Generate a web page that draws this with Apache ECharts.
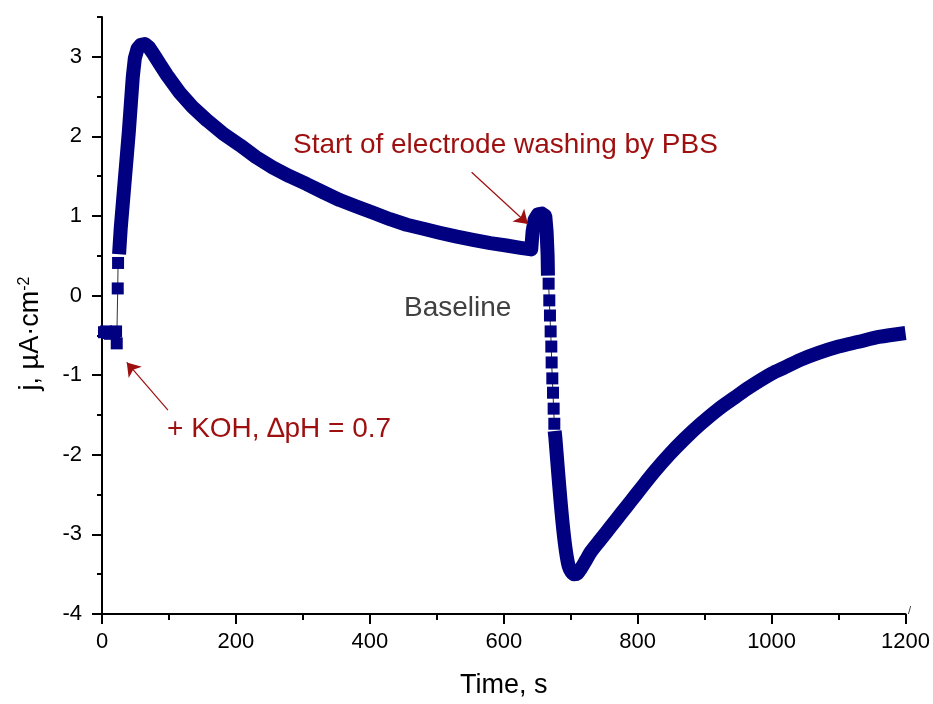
<!DOCTYPE html>
<html>
<head>
<meta charset="utf-8">
<title>j vs time</title>
<script src="https://cdn.jsdelivr.net/npm/echarts@6/dist/echarts.min.js"></script>
<style>
  html, body { margin: 0; padding: 0; background: #fff; }
  #chart { width: 933px; height: 704px; }
</style>
</head>
<body>
<div id="chart"></div>
<script>
// current density j (uA/cm2) against time (s)

// continuous part: KOH step response, decay, washing spike
var riseT = [25.5, 28, 31, 34, 37, 40, 43, 46, 49, 53, 58, 64, 70, 78, 87, 97, 116, 135, 157, 180, 206, 230, 255, 280, 306, 330, 355, 380, 405, 430, 455, 480, 504, 530, 554, 580, 604, 625, 641, 643, 646, 651, 657, 662, 664, 665.5, 666];
var riseJ = [0.52, 0.85, 1.15, 1.45, 1.75, 2.05, 2.4, 2.75, 2.98, 3.1, 3.15, 3.16, 3.12, 3.02, 2.9, 2.77, 2.55, 2.37, 2.2, 2.04, 1.89, 1.74, 1.61, 1.5, 1.4, 1.3, 1.2, 1.12, 1.04, 0.96, 0.89, 0.84, 0.79, 0.74, 0.7, 0.66, 0.63, 0.6, 0.58, 0.8, 0.95, 1.02, 1.03, 1.0, 0.8, 0.5, 0.25];

// continuous part after the drop: minimum and slow recovery
var recT = [676, 677, 681, 685, 689, 693, 697, 701, 705, 710, 716, 723, 730, 745, 760, 775, 790, 805, 825, 848, 870, 893, 920, 945, 967, 1000, 1020, 1042, 1070, 1100, 1130, 1160, 1200];
var recJ = [-1.7, -1.78, -2.2, -2.6, -2.95, -3.22, -3.4, -3.47, -3.5, -3.49, -3.42, -3.32, -3.22, -3.06, -2.9, -2.74, -2.58, -2.42, -2.21, -1.99, -1.8, -1.62, -1.43, -1.28, -1.15, -0.98, -0.9, -0.81, -0.72, -0.64, -0.58, -0.52, -0.47];

// sparse points (single squares): baseline + KOH step
var baseT = [3, 6, 9, 12, 15, 18, 21, 22, 23.5, 24];
var baseJ = [-0.46, -0.45, -0.47, -0.48, -0.47, -0.46, -0.45, -0.6, 0.09, 0.41];

// sparse points: start of washing (fast drop)
var dropT = [667, 668, 669, 670, 671, 671.5, 672.5, 673.5, 674.5, 675.5];
var dropJ = [0.15, -0.06, -0.25, -0.45, -0.64, -0.84, -1.04, -1.22, -1.42, -1.61];

// axis ticks
var yMajor = [-4, -3, -2, -1, 0, 1, 2, 3];

var NAVY = '#000080';
var DARKRED = '#9e0f0f';
var FONT = '"Liberation Sans", Arial, sans-serif';

function zip(a, b) {
  return a.map(function (v, i) { return [v, b[i]]; });
}

var myChart = echarts.init(document.getElementById('chart'));

var option = {
  animation: false,
  backgroundColor: '#fff',
  grid: { left: 102, right: 27, top: 17, bottom: 87 },
  xAxis: {
    type: 'value',
    min: 0,
    max: 1200,
    interval: 200,
    name: 'Time, s',
    nameLocation: 'middle',
    nameGap: 58,
    nameTextStyle: { fontSize: 27, color: '#000', fontFamily: FONT },
    axisLine: { onZero: false, lineStyle: { color: '#000', width: 2 } },
    axisTick: { length: 10, lineStyle: { color: '#000', width: 2 } },
    minorTick: { show: true, splitNumber: 2, length: 6, lineStyle: { color: '#000', width: 2 } },
    axisLabel: {
      fontSize: 22, color: '#000', fontFamily: FONT, margin: 17,
      formatter: function (v) { return String(v); }
    },
    splitLine: { show: false }
  },
  yAxis: [
    {
      type: 'value',
      min: -4,
      max: 3.5,
      interval: 0.5,
      name: 'j, \u00b5A\u00b7cm{sup|-2}',
      nameLocation: 'middle',
      nameGap: 58,
      nameTextStyle: {
        fontSize: 27, color: '#000', fontFamily: FONT,
        padding: [0, 36, 0, 0],
        rich: { sup: { fontSize: 16, verticalAlign: 'top', color: '#000', fontFamily: FONT } }
      },
      axisLine: { onZero: false, lineStyle: { color: '#000', width: 2 } },
      axisTick: { length: 5, lineStyle: { color: '#000', width: 2 } },
      axisLabel: {
        fontSize: 22, color: '#000', fontFamily: FONT, margin: 20,
        formatter: function (v) { return yMajor.indexOf(v) >= 0 ? String(v) : ''; }
      },
      splitLine: { show: false }
    },
    {
      // longer ticks for whole units
      type: 'value',
      min: -4,
      max: 3.5,
      position: 'left',
      axisLine: { show: false },
      axisTick: { show: true, length: 10, customValues: yMajor, lineStyle: { color: '#000', width: 2 } },
      axisLabel: { show: false },
      splitLine: { show: false }
    }
  ],
  series: [
    {
      type: 'line',
      data: zip(riseT, riseJ),
      showSymbol: false,
      lineStyle: { color: NAVY, width: 14, cap: 'butt', join: 'round' },
      z: 3
    },
    {
      type: 'line',
      data: zip(recT, recJ),
      showSymbol: false,
      smooth: 0.3,
      lineStyle: { color: NAVY, width: 14, cap: 'butt', join: 'round' },
      z: 3
    },
    {
      type: 'line',
      data: zip(baseT, baseJ),
      symbol: 'rect',
      symbolSize: 12,
      showAllSymbol: true,
      itemStyle: { color: NAVY },
      lineStyle: { color: '#333', width: 1 },
      z: 2,
      markLine: {
        silent: true,
        symbol: ['none', 'arrow'],
        symbolSize: 13,
        label: { show: false },
        lineStyle: { color: DARKRED, width: 1.2, type: 'solid' },
        itemStyle: { color: DARKRED },
        data: [
          [{ coord: [98.5, -1.44] }, { coord: [37, -0.84] }],
          [{ coord: [552, 1.55] }, { coord: [636, 0.9] }]
        ]
      }
    },
    {
      type: 'line',
      data: zip(dropT, dropJ),
      symbol: 'rect',
      symbolSize: 12,
      showAllSymbol: true,
      itemStyle: { color: NAVY },
      lineStyle: { color: '#333', width: 1 },
      z: 2
    }
  ],
  graphic: [
    {
      type: 'text', left: 293, top: 131,
      style: { text: 'Start of electrode washing by PBS', fill: DARKRED, font: '28px ' + FONT }
    },
    {
      type: 'text', left: 167, top: 415,
      style: { text: '+ KOH, \u2206pH = 0.7', fill: DARKRED, font: '28px ' + FONT }
    },
    {
      type: 'text', left: 404, top: 294,
      style: { text: 'Baseline', fill: '#404040', font: '28px ' + FONT }
    },
    {
      type: 'text', left: 908, top: 605,
      style: { text: '/', fill: '#333', font: '11px ' + FONT }
    }
  ]
};

myChart.setOption(option);
</script>
</body>
</html>
